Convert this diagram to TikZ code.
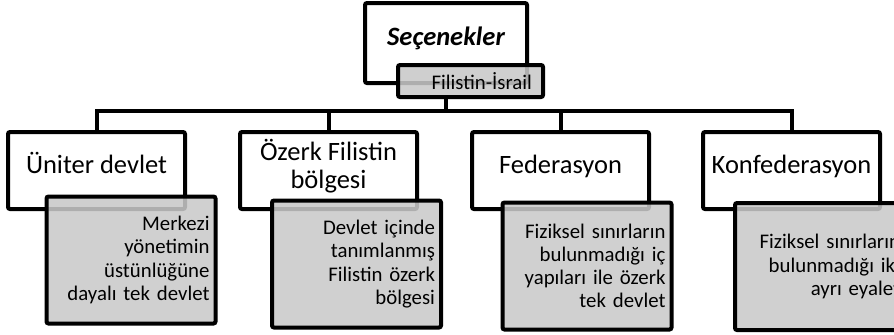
\documentclass[tikz,border=0pt]{standalone}
\usepackage{fontspec}
\setmainfont{Carlito}
\usepackage{xcolor}
\usepackage{tikz}
\usetikzlibrary{calc, positioning}

\definecolor{subfill}{gray}{0.79}

\begin{document}
\begin{tikzpicture}[x=0.5pt, y=-0.5pt,
    mainbox/.style={draw, line width=2pt, rounded corners=1pt, fill=white,
      minimum width=88.5pt, minimum height=38.5pt, align=center,
      text depth=6.5pt, font=\fontsize{13.25}{14}\selectfont},
    oneline/.style={text height=9pt},
    subbox/.style={draw, line width=2pt, rounded corners=1pt, fill=subfill,
      fill opacity=0.87, text opacity=1, minimum width=84.5pt,
      minimum height=63.5pt, inner xsep=3pt, text width=78.5pt, align=right,
      font=\fontsize{10.4}{11.6}\selectfont},
    link/.style={draw, line width=2pt}]
    \useasboundingbox (0,0) rectangle (894,334);
    \clip (0,0) rectangle (894,334);
    % top of the tree
    \node (top) [mainbox, oneline, minimum width=81pt, minimum height=40pt]
    at (446,43) {\bfseries\itshape Seçenekler};
    \node (fil) [subbox, minimum width=72.5pt, minimum height=16pt,
      inner xsep=5.5pt, text width=61.5pt] at (470.5,81) {Filistin-İsrail};
    \coordinate (hub) at (446,111);
    \draw[link] (top.south |- fil.south) -- (hub);
    % the four options
    \node (uni) [mainbox, oneline] at (96.5,170.5) {Üniter devlet};
    \node (ozk) [mainbox] at (328.5,170.5) {Özerk Filistin\\bölgesi};
    \node (fed) [mainbox, oneline] at (560.5,170.5) {Federasyon};
    \node (knf) [mainbox, oneline] at (791.5,170.5) {Konfederasyon};
    \foreach \opt in {uni, ozk, fed, knf}
    \draw[link] (hub) -| (\opt.north);
    % notes under each option
    \node (uninote) [subbox] at (131,260)
    {Merkezi\\yönetimin\\üstünlüğüne\\dayalı tek devlet};
    \node (ozknote) [subbox] at (356.5,264)
    {Devlet içinde\\tanımlanmış\\Filistin özerk\\bölgesi};
    \node (fednote) [subbox] at (587,266)
    {Fiziksel sınırların\\bulunmadığı iç\\yapıları ile özerk\\tek devlet};
    \node (knfnote) [subbox, minimum width=85.5pt, text width=79.5pt]
    at (820.5,266.5)
    {Fiziksel sınırların\\bulunmadığı iki\\ayrı eyalet};
  \end{tikzpicture}
\end{document}
